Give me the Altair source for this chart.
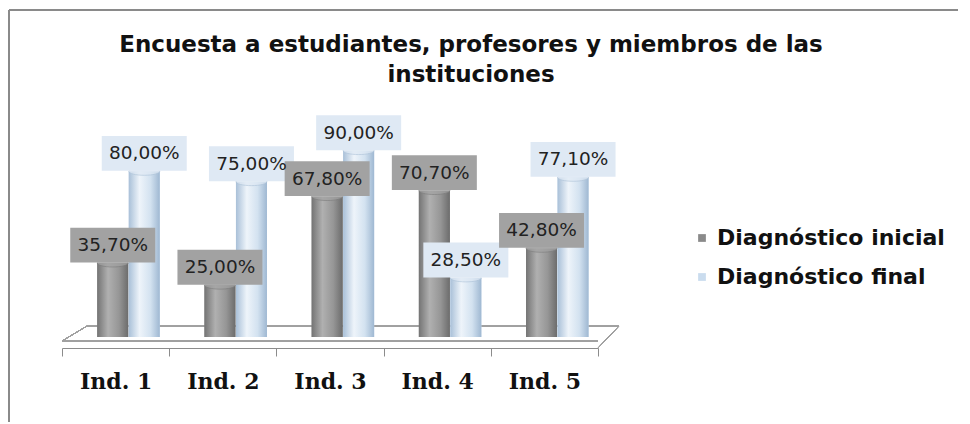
import altair as alt
import pandas as pd

categories = ["Ind. 1", "Ind. 2", "Ind. 3", "Ind. 4", "Ind. 5"]
series = ["Diagnóstico inicial", "Diagnóstico final"]
inicial = [35.7, 25.0, 67.8, 70.7, 42.8]
final = [80.0, 75.0, 90.0, 28.5, 77.1]
title_lines = ["Encuesta a estudiantes, profesores y miembros de las", "instituciones"]

rows = []
for c, a, b in zip(categories, inicial, final):
    rows.append({"cat": c, "serie": series[0], "v": a, "lab": f"{a:.2f}".replace(".", ",") + "%"})
    rows.append({"cat": c, "serie": series[1], "v": b, "lab": f"{b:.2f}".replace(".", ",") + "%"})
df = pd.DataFrame(rows)
title_df = pd.DataFrame({"t": title_lines, "line": [0, 1]})

W, H = 536, 207
FONT = "DejaVu Sans"

x_enc = alt.X("cat:N", sort=categories, scale=alt.Scale(paddingInner=0, paddingOuter=0),
              axis=alt.Axis(title=None, labelAngle=0, labelFont="DejaVu Serif", labelFontWeight="bold",
                            labelFontSize=22, labelColor="#111111", labelPadding=15,
                            domainColor="#8c8c8c", tickColor="#8c8c8c", tickSize=8,
                            offset=11, tickBand="extent", grid=False))
xo = alt.XOffset("serie:N", sort=series, scale=alt.Scale(range=[35, 98], paddingInner=0, paddingOuter=0))
y_enc = alt.Y("v:Q", scale=alt.Scale(domain=[0, 100]), axis=None)

base = alt.Chart(df)

grad_ini = alt.Gradient(gradient="linear", x1=0, x2=1, y1=0, y2=0,
                        stops=[alt.GradientStop(color="#747474", offset=0),
                               alt.GradientStop(color="#b0b0b0", offset=0.35),
                               alt.GradientStop(color="#969696", offset=0.7),
                               alt.GradientStop(color="#6c6c6c", offset=1)])
grad_fin = alt.Gradient(gradient="linear", x1=0, x2=1, y1=0, y2=0,
                        stops=[alt.GradientStop(color="#a9c0d8", offset=0),
                               alt.GradientStop(color="#eef4fa", offset=0.35),
                               alt.GradientStop(color="#d3e2f0", offset=0.7),
                               alt.GradientStop(color="#9fb8d2", offset=1)])

border = base.mark_rect(fillOpacity=0, stroke="#8a8a8a", strokeWidth=1.5, cornerRadius=2).encode(
    x=alt.value(-53), x2=alt.value(905), y=alt.value(-120), y2=alt.value(300))

title = alt.Chart(title_df).mark_text(font=FONT, fontSize=23, fontWeight="bold", color="#111111",
                                      baseline="alphabetic", align="center").encode(
    text="t:N", x=alt.value(409),
    y=alt.Y("line:Q", scale=alt.Scale(domain=[0, 1], range=[-78, -48]), axis=None))

floor_col = "#a0a0a0"
floor = [
    base.mark_rule(color=floor_col).encode(x=alt.value(25), x2=alt.value(557), y=alt.value(196), y2=alt.value(196)),
    base.mark_rule(color=floor_col).encode(x=alt.value(0), x2=alt.value(536), y=alt.value(211), y2=alt.value(211)),
    base.mark_rule(color=floor_col).encode(x=alt.value(0), x2=alt.value(25), y=alt.value(211), y2=alt.value(196)),
    base.mark_rule(color=floor_col).encode(x=alt.value(536), x2=alt.value(557), y=alt.value(218), y2=alt.value(196)),
]

bars_legend = base.mark_bar(width=31).encode(
    x=x_enc, xOffset=xo, y=y_enc,
    color=alt.Color("serie:N", sort=series,
                    scale=alt.Scale(domain=series, range=["#8a8a8a", "#cadcee"]),
                    legend=alt.Legend(title=None, orient="none", legendX=629, legendY=97,
                                      symbolType="square", symbolSize=60, symbolStrokeWidth=0,
                                      labelFont=FONT, labelFontWeight="bold", labelFontSize=22,
                                      labelColor="#111111", rowPadding=17, labelOffset=4, labelLimit=0)))

bars_ini = base.transform_filter(alt.datum.serie == series[0]).mark_bar(width=31, color=grad_ini).encode(
    x=x_enc, xOffset=xo, y=y_enc)
bars_fin = base.transform_filter(alt.datum.serie == series[1]).mark_bar(width=31, color=grad_fin).encode(
    x=x_enc, xOffset=xo, y=y_enc)

ellipse = "M-1,0A1,0.25,0,1,1,1,0A1,0.25,0,1,1,-1,0Z"
caps = base.mark_point(shape=ellipse, size=961, filled=True, strokeWidth=0.8).encode(
    x=x_enc, xOffset=xo, y=y_enc,
    fill=alt.Fill("serie:N", sort=series, scale=alt.Scale(domain=series, range=["#a2a2a2", "#dfe9f4"]), legend=None),
    stroke=alt.Stroke("serie:N", sort=series, scale=alt.Scale(domain=series, range=["#7a7a7a", "#a8bfd6"]), legend=None))

box = "M-1,-0.41H1V0.41H-1Z"
boxes = base.mark_point(shape=box, size=7225, filled=True, opacity=1, yOffset=-18, xOffset=-3, strokeWidth=0).encode(
    x=x_enc, xOffset=xo, y=y_enc,
    fill=alt.Fill("serie:N", sort=series, scale=alt.Scale(domain=series, range=["#acacac", "#d9e7f5"]), legend=None))

labels = base.mark_text(font=FONT, fontSize=18.5, color="#222222", baseline="middle", yOffset=-18, xOffset=-3).encode(
    x=x_enc, xOffset=xo, y=y_enc, text="lab:N")

chart = alt.layer(border, title, *floor, bars_legend, bars_ini, bars_fin, caps, boxes, labels).properties(
    width=W, height=H,
    background="white",
    autosize=alt.AutoSizeParams(type="none"),
    padding={"left": 54, "top": 122, "right": 360, "bottom": 85},
).resolve_scale(y="independent").configure_view(stroke=None)

chart.save("out.html", embed_options={"renderer": "svg", "actions": False})
